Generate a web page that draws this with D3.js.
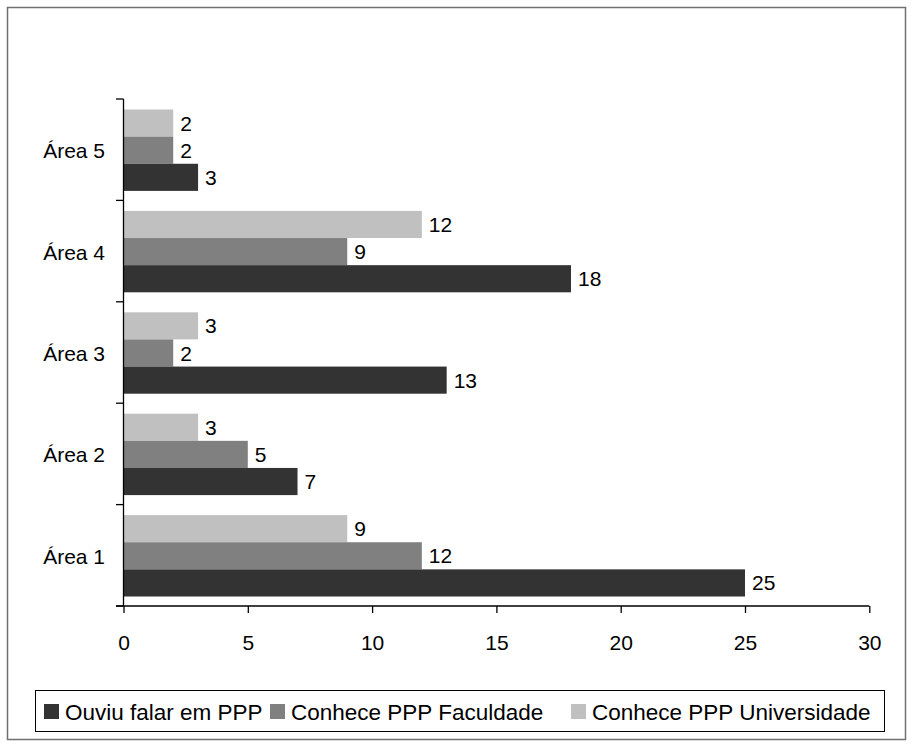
<!DOCTYPE html>
<html>
<head>
<meta charset="utf-8">
<script src="https://cdn.jsdelivr.net/npm/d3@7"></script>
<style>
  html, body { margin: 0; padding: 0; background: #fff; }
  svg { display: block; font-family: Arial, "Liberation Sans", sans-serif; }
</style>
</head>
<body>
<svg id="chart" width="912" height="747"></svg>
<script>
// ---- data ----
const categories = ["Área 1", "Área 2", "Área 3", "Área 4", "Área 5"];
const seriesNames = ["Ouviu falar em PPP", "Conhece PPP Faculdade", "Conhece PPP Universidade"];
const ouviu = [25, 7, 13, 18, 3];
const faculdade = [12, 5, 2, 9, 2];
const universidade = [9, 3, 3, 12, 2];
const xTicks = [0, 5, 10, 15, 20, 25, 30];

const seriesValues = [ouviu, faculdade, universidade];
const colors = ["#333333", "#808080", "#c0c0c0"];

(function () {
const svg = d3.select("#chart");

// outer frame
svg.append("rect")
  .attr("x", 7.5).attr("y", 7.5).attr("width", 898).attr("height", 732)
  .attr("fill", "#fff").attr("stroke", "#707070").attr("stroke-width", 1.5);

const pLeft = 123.5, pRight = 869.3, pTop = 99, pBottom = 606;

const x = d3.scaleLinear().domain([0, 30]).range([pLeft, pRight]);
const y = d3.scaleBand().domain(categories.slice().reverse()).range([pTop, pBottom]).padding(0);
// order inside a band, top to bottom: Universidade, Faculdade, Ouviu
const inner = d3.scaleBand().domain([2, 1, 0]).range([10.5, y.bandwidth() - 9.5]).padding(0);

// bars
categories.forEach((cat, ci) => {
  const g = svg.append("g").attr("transform", `translate(0,${y(cat)})`);
  [2, 1, 0].forEach(si => {
    const v = seriesValues[si][ci];
    g.append("rect")
      .attr("x", x(0))
      .attr("y", inner(si))
      .attr("width", x(v) - x(0))
      .attr("height", inner.bandwidth())
      .attr("fill", colors[si]);
    g.append("text")
      .attr("x", x(v) + 7)
      .attr("y", inner(si) + inner.bandwidth() / 2)
      .attr("dy", "0.36em")
      .attr("font-size", 21)
      .attr("fill", "#000")
      .text(v);
  });
});

// y axis
const yAxisG = svg.append("g");
yAxisG.append("line")
  .attr("x1", pLeft).attr("x2", pLeft).attr("y1", pTop).attr("y2", pBottom)
  .attr("stroke", "#000").attr("stroke-width", 1.3);
const boundaries = y.domain().map(c => y(c)).concat([pBottom]);
boundaries.forEach(b => {
  yAxisG.append("line")
    .attr("x1", pLeft - 7.5).attr("x2", pLeft).attr("y1", b).attr("y2", b)
    .attr("stroke", "#000").attr("stroke-width", 1.3);
});
categories.forEach(cat => {
  yAxisG.append("text")
    .attr("x", 105)
    .attr("y", y(cat) + y.bandwidth() / 2 + 1)
    .attr("dy", "0.36em")
    .attr("text-anchor", "end")
    .attr("font-size", 21)
    .text(cat);
});

// x axis
const xAxis = d3.axisBottom(x).tickValues(xTicks).tickSize(7).tickPadding(22).tickFormat(d3.format("d"));
const xg = svg.append("g").attr("transform", `translate(0,${pBottom})`).call(xAxis);
xg.select(".domain").remove();
xg.append("line").attr("x1", pLeft - 7.5).attr("x2", pRight).attr("y1", 0).attr("y2", 0)
  .attr("stroke", "#000").attr("stroke-width", 1.3);
xg.selectAll(".tick line").attr("stroke", "#000").attr("stroke-width", 1.3);
xg.selectAll(".tick text").attr("font-size", 21).attr("fill", "#000")
  .attr("font-family", "Arial, 'Liberation Sans', sans-serif");

// legend
const legend = svg.append("g");
legend.append("rect")
  .attr("x", 35.5).attr("y", 690.5).attr("width", 849).attr("height", 41)
  .attr("fill", "#fff").attr("stroke", "#000").attr("stroke-width", 1);
const legendX = [44, 270, 571];
seriesNames.forEach((name, i) => {
  legend.append("rect")
    .attr("x", legendX[i]).attr("y", 704).attr("width", 15).attr("height", 15)
    .attr("fill", colors[i]);
  legend.append("text")
    .attr("x", legendX[i] + 21).attr("y", 712)
    .attr("dy", "0.36em")
    .attr("font-size", 22.5)
    .text(name);
});
})();
</script>
</body>
</html>
